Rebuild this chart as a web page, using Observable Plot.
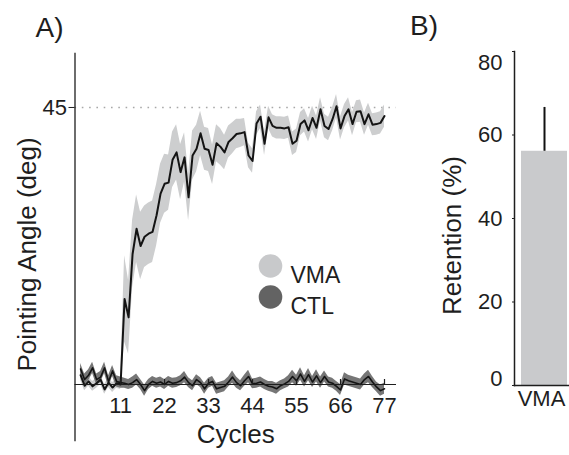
<!DOCTYPE html>
<html><head><meta charset="utf-8">
<script src="https://cdn.jsdelivr.net/npm/d3@7"></script>
<script src="https://cdn.jsdelivr.net/npm/@observablehq/plot@0.6"></script>
<style>
html,body{margin:0;padding:0;background:#fff;}
#wrap{position:relative;width:569px;height:455px;overflow:hidden;}
#a,#b{position:absolute;top:0;}
#a{left:0;} #b{left:400px;}
svg{overflow:visible;}
</style></head><body>
<div id="wrap"><div id="a"></div><div id="b"></div></div>
<script>
// ---- Panel A data ----
const cycles = d3.range(1, 78);
const vmaMean = [1.5, -0.2, 0.5, -0.3, 0.2, 0.8, -0.8, 0.3, -0.5, 0.2, 0.0,
  13.9, 10.9, 21.2, 25.3, 22.5, 24.0, 24.5, 24.8, 27.5, 31.0, 32.6, 32.8, 36.5, 37.7, 34.5, 36.9, 30.4, 37.2, 38.3,
  40.8, 38.3, 38.1, 35.7, 39.2, 38.6, 37.7, 39.4, 40.0,
  40.7, 40.8, 41.0, 37.2, 36.3, 42.4, 43.5, 39.1, 43.4, 42.0, 41.7, 41.7, 41.6, 41.8, 39.1, 39.6, 42.3, 42.9, 41.3,
  43.3, 41.7, 44.7, 42.0, 41.5, 43.1, 45.2, 41.6, 43.6, 44.7, 42.3, 44.3, 44.4, 42.3, 43.9, 42.2, 42.3, 42.5, 43.6];
const vmaSE = [0.8, 0.8, 0.8, 0.8, 0.8, 0.8, 0.8, 0.8, 0.8, 0.8, 0.8,
  7.0, 6.0, 5.5, 5.5, 5.5, 5.0, 5.0, 5.0, 5.0, 4.8, 4.8, 4.5, 4.5, 4.5, 4.5, 4.0, 3.8, 4.0, 3.8,
  3.6, 3.5, 3.5, 3.2, 3.0, 3.0, 2.8, 2.6, 2.5,
  2.4, 2.3, 2.2, 2.0, 2.0, 1.9, 1.9, 1.9, 1.8, 1.8, 1.8, 1.8, 1.8, 1.8, 1.9, 1.9, 1.9, 1.9, 1.9,
  1.9, 1.9, 1.9, 1.9, 1.9, 1.9, 1.9, 1.9, 1.9, 1.9, 1.9, 1.8, 1.8, 1.8, 1.8, 1.8, 1.8, 1.8, 1.8];
const ctlMean = [2.5, 0.8, 1.5, 2.7, 0.8, 1.2, 2.7, 0.5, 2.2, 0.5, 0.3,
  0.2, 0.0, 0.3, 0.8, 0.0, -1.0, 0.0, 0.5, 0.2, 0.4,
  0.0, 0.5, 0.2, 0.3, 0.6, 1.2, 0.3, -0.2, 0.8, 0.3,
  -0.7, 0.2, 0.5, -0.7, -0.5, -0.3, 0.4, 1.2, 0.3, -0.2,
  0.6, 1.3, 0.1, 0.2, 0.4, 0.0, -0.3, -0.4, -0.7, -0.2,
  0.1, 0.5, 1.3, 0.6, 1.7, 0.5, 1.6, 0.4, 1.4, 0.3,
  1.3, 0.4, 0.2, -0.3, -0.9, 0.9, 0.6, 0.4, 0.2, 0.0,
  0.8, 1.3, 0.4, -0.4, -1.0, -0.7];
const ctlSE = [0.9, 0.9, 0.9, 0.9, 0.9, 0.9, 0.9, 0.9, 0.9, 0.9, 0.9,
  0.8, 0.8, 0.9, 0.9, 0.8, 0.9, 0.8, 0.8, 0.8, 0.8,
  0.8, 0.8, 0.8, 0.8, 0.8, 0.9, 0.8, 0.8, 0.8, 0.8,
  0.9, 0.8, 0.8, 0.9, 0.9, 0.9, 0.8, 1.0, 0.9, 0.8,
  0.9, 1.0, 0.8, 0.8, 0.8, 0.8, 0.8, 0.9, 0.9, 0.8,
  0.8, 0.9, 1.0, 0.9, 1.0, 0.9, 1.0, 0.9, 1.0, 0.9,
  0.9, 0.8, 0.8, 0.8, 0.9, 1.0, 0.9, 0.9, 0.9, 0.9,
  0.9, 1.0, 0.9, 0.8, 0.9, 0.9];
const xTicks = [11, 22, 33, 44, 55, 66, 77];
const yTicksA = [45];
const targetAngle = 45;
const legendLabels = ["VMA", "CTL"];
const legendColors = ["#c8c9cb", "#636363"];

// ---- Panel B data ----
const retentionGroups = ["VMA"];
const retentionMean = [56.1];
const retentionSE = [10.5];
const yTicksB = [0, 20, 40, 60, 80];

const font = "'Liberation Sans', Arial, Helvetica, sans-serif";
const ink = "#1e1e1e";

const rows = cycles.map((c, i) => ({
  c,
  vm: vmaMean[i], vlo: vmaMean[i] - vmaSE[i], vhi: vmaMean[i] + vmaSE[i],
  cm: ctlMean[i], clo: ctlMean[i] - ctlSE[i], chi: ctlMean[i] + ctlSE[i]
}));

const A = Plot.plot({
  width: 400, height: 455,
  marginLeft: 74.5, marginRight: 4, marginTop: 53, marginBottom: 15,
  x: {domain: [-0.4, 80], axis: null},
  y: {domain: [-9.1, 53.77], axis: null},
  style: {fontFamily: font, background: "transparent", overflow: "visible"},
  marks: [
    Plot.ruleY([targetAngle], {stroke: "#a8a8a8", strokeWidth: 1.6, strokeDasharray: "1.6,5.7"}),
    Plot.areaY(rows, {x: "c", y1: "vlo", y2: "vhi", fill: "#cdcecf"}),
    Plot.areaY(rows, {x: "c", y1: "clo", y2: "chi", fill: "#767676"}),
    Plot.lineY(rows, {x: "c", y: "vm", stroke: "#141414", strokeWidth: 2}),
    Plot.lineY(rows, {x: "c", y: "cm", stroke: "#141414", strokeWidth: 1.6}),
    Plot.ruleY([0], {stroke: ink, strokeWidth: 1.2}),
    Plot.ruleX(xTicks, {x: d => d, y1: 0, y2: 0, insetTop: -5, stroke: ink, strokeWidth: 1.2}),
    Plot.text(xTicks, {x: d => d, y: 0, dy: 21.5, text: d => String(d), fontSize: 22, fill: ink}),
    Plot.frame({anchor: "left", stroke: ink, strokeWidth: 1.3}),
    Plot.axisY(yTicksA, {tickSize: 6, tickPadding: 2, fontSize: 22, color: ink}),
    Plot.text(["Pointing Angle (deg)"], {frameAnchor: "left", textAnchor: "middle", dx: -47.5, dy: 7.5, rotate: -90, fontSize: 26, fill: ink}),
    Plot.text(["Cycles"], {frameAnchor: "bottom", dy: 2, fontSize: 26, fill: ink}),
    Plot.text(["A)"], {frameAnchor: "top-left", dx: -39.5, dy: -36, lineAnchor: "top", textAnchor: "start", fontSize: 28, fill: ink}),
    ...legendLabels.flatMap((lab, i) => [
      Plot.dot([lab], {frameAnchor: "top-left", dx: 270 - 74.5, dy: 265.5 - 53 + 31 * i, r: 11.8, fill: legendColors[i], stroke: null}),
      Plot.text([lab], {frameAnchor: "top-left", dx: 290 - 74.5, dy: 266 - 53 + 31 * i, text: d => d, textAnchor: "start", fontSize: 23, fill: ink})
    ])
  ]
});
document.getElementById("a").appendChild(A);

const bRows = retentionGroups.map((g, i) => ({g, m: retentionMean[i], hi: retentionMean[i] + retentionSE[i]}));

const B = Plot.plot({
  width: 169, height: 455,
  marginLeft: 114, marginRight: 0, marginTop: 51, marginBottom: 70,
  x: {domain: retentionGroups, padding: 0, axis: null},
  y: {domain: [0, 80], axis: null},
  style: {fontFamily: font, background: "transparent", overflow: "visible"},
  marks: [
    Plot.barY(bRows, {x: "g", y: "m", fill: "#c9cacc", insetLeft: 7, insetRight: 2}),
    Plot.ruleX(bRows, {x: "g", y1: "m", y2: "hi", stroke: "#111", strokeWidth: 2, dx: 2.5}),
    Plot.frame({anchor: "left", stroke: ink, strokeWidth: 1.5}),
    Plot.frame({anchor: "bottom", stroke: ink, strokeWidth: 1.5}),
    Plot.axisY(yTicksB, {tickSize: 2, tickFormat: () => "", color: ink}),
    Plot.text(yTicksB.filter(v => v > 0 && v < 80), {y: d => d, frameAnchor: "left", dx: -12, textAnchor: "end", text: d => String(d), fontSize: 22, fill: ink}),
    Plot.text(yTicksB.filter(v => v === 80), {y: d => d, frameAnchor: "left", dx: -12, dy: 11, textAnchor: "end", text: d => String(d), fontSize: 22, fill: ink}),
    Plot.text(yTicksB.filter(v => v === 0), {y: d => d, frameAnchor: "left", dx: -12, dy: -7, textAnchor: "end", text: d => String(d), fontSize: 22, fill: ink}),
    Plot.text(retentionGroups, {x: d => d, frameAnchor: "bottom", dy: 20.5, dx: -0.5, text: d => d, fontSize: 22, fill: ink}),
    Plot.text(["Retention (%)"], {frameAnchor: "left", textAnchor: "middle", dx: -62.3, dy: 17, rotate: -90, fontSize: 26, fill: ink}),
    Plot.text(["B)"], {frameAnchor: "top-left", dx: -104.5, dy: -36, lineAnchor: "top", textAnchor: "start", fontSize: 28, fill: ink})
  ]
});
document.getElementById("b").appendChild(B);
</script>
</body></html>
